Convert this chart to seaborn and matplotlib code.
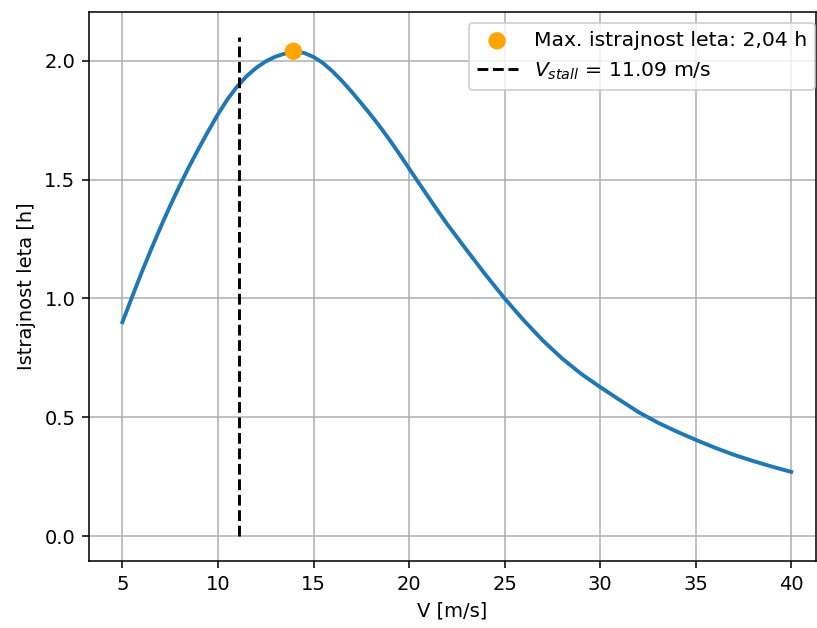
import matplotlib
matplotlib.use("Agg")
import matplotlib.pyplot as plt
import seaborn as sns
import pandas as pd

# Data
speed = [5.0, 5.5, 6.0, 6.5, 7.0, 7.5, 8.0, 8.5, 9.0, 9.5, 10.0, 10.5, 11.0,
         11.5, 12.0, 12.5, 13.0, 13.5, 14.0, 14.5, 15.0, 15.5, 16.0, 16.5,
         17.0, 17.5, 18.0, 18.5, 19.0, 19.5, 20.0, 20.5, 21.0, 21.5, 22.0,
         23, 24, 25, 26, 27, 28, 29, 30, 31, 32, 33, 34, 35, 36, 37, 38, 39, 40]
endurance = [0.900, 1.005, 1.108, 1.206, 1.300, 1.390, 1.475, 1.556, 1.632,
             1.705, 1.775, 1.838, 1.891, 1.935, 1.970, 1.997, 2.017, 2.030,
             2.036, 2.033, 2.016, 1.990, 1.955, 1.914, 1.869, 1.821, 1.772,
             1.720, 1.665, 1.607, 1.547, 1.487, 1.428, 1.369, 1.312,
             1.205, 1.100, 1.000, 0.908, 0.823, 0.748, 0.683, 0.627, 0.574,
             0.522, 0.478, 0.440, 0.405, 0.372, 0.342, 0.316, 0.292, 0.270]
max_speed = 13.95
max_endurance = 2.04
v_stall = 11.09
stall_line_range = [0.0, 2.1]
x_ticks = [5, 10, 15, 20, 25, 30, 35, 40]
y_ticks = [0.0, 0.5, 1.0, 1.5, 2.0]

df = pd.DataFrame({"V": speed, "E": endurance})
df_max = pd.DataFrame({"V": [max_speed], "E": [max_endurance]})

DPI = 140
fig = plt.figure(figsize=(817 / DPI, 628 / DPI), dpi=DPI)
ax = fig.add_axes([89 / 817, 1 - 561 / 628, (816 - 89) / 817, (561 - 12) / 628])

sns.lineplot(data=df, x="V", y="E", ax=ax, color="#1f77b4", linewidth=2,
             legend=False, zorder=2)
max_label = "Max. istrajnost leta: " + f"{max_endurance:.2f}".replace(".", ",") + " h"
sns.scatterplot(data=df_max, x="V", y="E", ax=ax, color="orange", s=80,
                edgecolor="none", label=max_label, zorder=3)
ax.vlines(v_stall, stall_line_range[0], stall_line_range[1], colors="black",
          linestyles="--", linewidth=1.5,
          label=r"$V_{stall}$ = " + f"{v_stall:.2f} m/s")

ax.set_xlim(3.25, 41.3)
ax.set_ylim(-0.105, 2.205)
ax.set_xticks(x_ticks)
ax.set_yticks(y_ticks)
ax.grid(True, color="#b0b0b0", linewidth=0.8)
ax.set_axisbelow(True)
ax.set_xlabel("V [m/s]", fontsize=10)
ax.set_ylabel("Istrajnost leta [h]", fontsize=10)
ax.tick_params(labelsize=10)
ax.legend(loc="upper right", fontsize=10.5, borderaxespad=0,
          bbox_to_anchor=(0.999, 1 - 11 / 549))

fig.savefig("out.png", dpi=DPI)
